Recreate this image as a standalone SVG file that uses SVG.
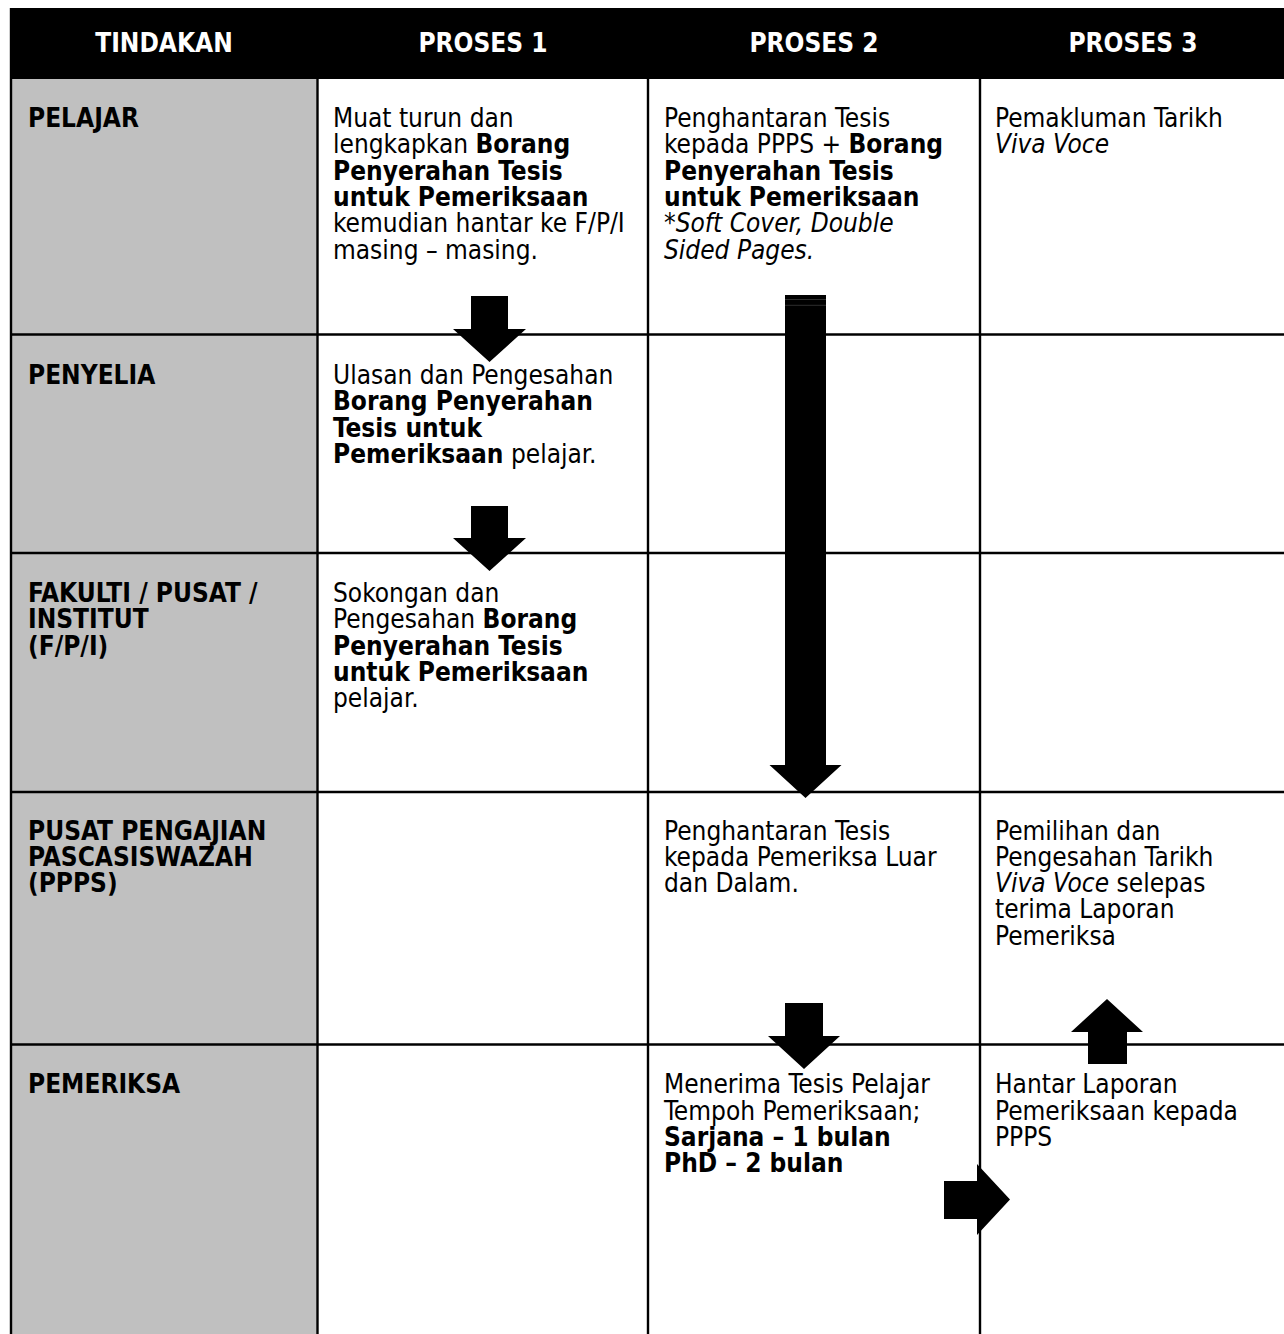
<svg xmlns="http://www.w3.org/2000/svg" width="1284" height="1334" viewBox="0 0 1284 1334">
<style>
text { font-family: 'DejaVu Sans Condensed', 'DejaVu Sans', sans-serif; font-stretch: condensed; font-size: 26px; fill: #000; }
.hd { fill: #fff; font-weight: bold; text-anchor: middle; }
.lbl { font-weight: bold; }
.b { font-weight: bold; }
.i { font-style: italic; }
.grid { stroke: #000; stroke-width: 2.4; fill: none; }
.arrow { fill: #000; stroke: none; }
</style>
<rect x="0" y="0" width="1284" height="1334" fill="#fff"/>
<g id="table">
  <rect x="10" y="79" width="307.5" height="1255" fill="#C0C0C0"/>
  <rect x="9.8" y="8" width="1274.2" height="71" fill="#000"/>
  <g class="grid">
    <line x1="11" y1="79" x2="11" y2="1334"/>
    <line x1="317.5" y1="79" x2="317.5" y2="1334"/>
    <line x1="648" y1="79" x2="648" y2="1334"/>
    <line x1="980" y1="79" x2="980" y2="1334"/>
    <line x1="10" y1="334.5" x2="1284" y2="334.5"/>
    <line x1="10" y1="553" x2="1284" y2="553"/>
    <line x1="10" y1="792" x2="1284" y2="792"/>
    <line x1="10" y1="1044.5" x2="1284" y2="1044.5"/>
  </g>
</g>
<g id="header">
  <text class="hd" x="164" y="52">TINDAKAN</text>
  <text class="hd" x="483" y="52">PROSES 1</text>
  <text class="hd" x="814" y="52">PROSES 2</text>
  <text class="hd" x="1133" y="52">PROSES 3</text>
</g>
<g id="lbl-pelajar"><text class="lbl" x="28" y="127">PELAJAR</text></g>
<g id="lbl-penyelia"><text class="lbl" x="28" y="384">PENYELIA</text></g>
<g id="lbl-fpi"><text class="lbl" x="28" y="602"><tspan x="28">FAKULTI / PUSAT /</tspan><tspan x="28" dy="26.3">INSTITUT</tspan><tspan x="28" dy="26.3">(F/P/I)</tspan></text></g>
<g id="lbl-ppps"><text class="lbl" x="28" y="839.5"><tspan x="28">PUSAT PENGAJIAN</tspan><tspan x="28" dy="26.3">PASCASISWAZAH</tspan><tspan x="28" dy="26.3">(PPPS)</tspan></text></g>
<g id="lbl-pemeriksa"><text class="lbl" x="28" y="1093.3">PEMERIKSA</text></g>

<g id="pelajar-p1"><text x="333" y="127"><tspan x="333">Muat turun dan</tspan><tspan x="333" dy="26.3">lengkapkan <tspan class="b">Borang</tspan></tspan><tspan x="333" dy="26.3" class="b">Penyerahan Tesis</tspan><tspan x="333" dy="26.3" class="b">untuk Pemeriksaan</tspan><tspan x="333" dy="26.3">kemudian hantar ke F/P/I</tspan><tspan x="333" dy="26.3">masing – masing.</tspan></text></g>
<g id="pelajar-p2"><text x="664" y="127"><tspan x="664">Penghantaran Tesis</tspan><tspan x="664" dy="26.3">kepada PPPS + <tspan class="b">Borang</tspan></tspan><tspan x="664" dy="26.3" class="b">Penyerahan Tesis</tspan><tspan x="664" dy="26.3" class="b">untuk Pemeriksaan</tspan><tspan x="664" dy="26.3">*<tspan class="i">Soft Cover, Double</tspan></tspan><tspan x="664" dy="26.3" class="i">Sided Pages.</tspan></text></g>
<g id="pelajar-p3"><text x="995" y="127"><tspan x="995">Pemakluman Tarikh</tspan><tspan x="995" dy="26.3" class="i">Viva Voce</tspan></text></g>

<g id="penyelia-p1"><text x="333" y="384"><tspan x="333">Ulasan dan Pengesahan</tspan><tspan x="333" dy="26.3" class="b">Borang Penyerahan</tspan><tspan x="333" dy="26.3" class="b">Tesis untuk</tspan><tspan x="333" dy="26.3"><tspan class="b">Pemeriksaan</tspan> pelajar.</tspan></text></g>

<g id="fpi-p1"><text x="333" y="602"><tspan x="333">Sokongan dan</tspan><tspan x="333" dy="26.3">Pengesahan <tspan class="b">Borang</tspan></tspan><tspan x="333" dy="26.3" class="b">Penyerahan Tesis</tspan><tspan x="333" dy="26.3" class="b">untuk Pemeriksaan</tspan><tspan x="333" dy="26.3">pelajar.</tspan></text></g>

<g id="ppps-p2"><text x="664" y="839.5"><tspan x="664">Penghantaran Tesis</tspan><tspan x="664" dy="26.3">kepada Pemeriksa Luar</tspan><tspan x="664" dy="26.3">dan Dalam.</tspan></text></g>
<g id="ppps-p3"><text x="995" y="839.5"><tspan x="995">Pemilihan dan</tspan><tspan x="995" dy="26.3">Pengesahan Tarikh</tspan><tspan x="995" dy="26.3"><tspan class="i">Viva Voce</tspan> selepas</tspan><tspan x="995" dy="26.3">terima Laporan</tspan><tspan x="995" dy="26.3">Pemeriksa</tspan></text></g>

<g id="pemeriksa-p2"><text x="664" y="1093.3"><tspan x="664">Menerima Tesis Pelajar</tspan><tspan x="664" dy="26.3">Tempoh Pemeriksaan;</tspan><tspan x="664" dy="26.3" class="b">Sarjana – 1 bulan</tspan><tspan x="664" dy="26.3" class="b">PhD – 2 bulan</tspan></text></g>
<g id="pemeriksa-p3"><text x="995" y="1093.3"><tspan x="995">Hantar Laporan</tspan><tspan x="995" dy="26.3">Pemeriksaan kepada</tspan><tspan x="995" dy="26.3">PPPS</tspan></text></g>

<g id="connectors">
  <polygon class="arrow" points="471,296 508,296 508,329 526,329 489.5,362 453,329 471,329"/>
  <polygon class="arrow" points="471,506 508,506 508,538 526,538 489.5,571 453,538 471,538"/>
  <polygon class="arrow" points="785,295 826,295 826,765 841.5,765 805.5,798 769.5,765 785,765"/>
  <line x1="785" y1="299.5" x2="826" y2="299.5" stroke="#3a3a3a" stroke-width="0.8"/>
  <line x1="785" y1="305.3" x2="826" y2="305.3" stroke="#3a3a3a" stroke-width="0.8"/>
  <polygon class="arrow" points="785,1003 823,1003 823,1036 840,1036 804,1069 768,1036 785,1036"/>
  <polygon class="arrow" points="1088,1064 1127,1064 1127,1032 1143,1032 1107,999 1071,1032 1088,1032"/>
  <polygon class="arrow" points="944,1181 977,1181 977,1164 1010,1199.5 977,1235 977,1219 944,1219"/>
</g>
</svg>
